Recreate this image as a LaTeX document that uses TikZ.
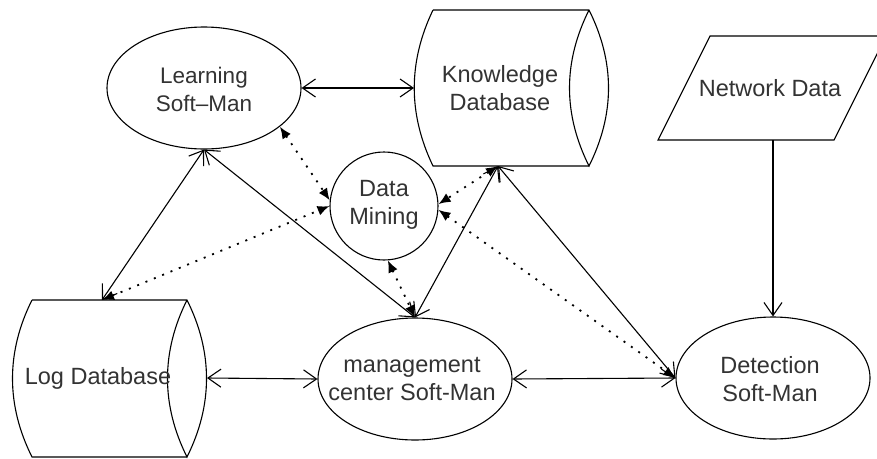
\documentclass[tikz,border=0pt]{standalone}
\usepackage{fontspec}
\setmainfont{Liberation Sans}
\usetikzlibrary{shapes.geometric,arrows.meta}
\begin{document}
\begin{tikzpicture}[x=1pt,y=-1pt,
  shapeline/.style={draw=black,line width=1.1pt},
  ell/.style={shapeline,ellipse,inner sep=0pt,minimum width=194pt,minimum height=122pt},
  lbl/.style={align=center,font=\fontsize{23.5}{28}\selectfont,text=black!80,inner sep=0pt},
  barb/.tip={Straight Barb[length=13pt,width=18pt,line width=1.1pt]},
  biarr/.style={line width=1.1pt,barb-barb},
  onearr/.style={line width=1.1pt,-barb},
  dottip/.tip={Latex[length=12pt,width=10pt]},
  dotarr/.style={line width=1.8pt,dash pattern=on 2pt off 7pt,dottip-dottip}]
\useasboundingbox (0,0) rectangle (877,458);
\fill[white] (0,0) rectangle (877,458);

% Learning Soft-Man
\node[ell] (ls) at (204,88) {};
\node[lbl,font=\fontsize{22.5}{28}\selectfont] (lst) at (204,89) {Learning\\Soft\textendash Man};

% Knowledge Database (horizontal cylinder)
\draw[shapeline] (433,10) -- (589,10)
  .. controls (615,62) and (615,114) .. (589,166)
  .. controls (563,114) and (563,62) .. (589,10);
\draw[shapeline] (589,166) -- (433,166)
  .. controls (408,114) and (408,62) .. (433,10);
\node[lbl] (kd) at (500,88) {Knowledge\\Database};
\coordinate (kd-w) at (414,88);
\coordinate (kd-s) at (498,166);

% Network Data (parallelogram)
\draw[shapeline] (710,36) -- (886,36) -- (834,140) -- (658,140) -- cycle;
\node[lbl] (nd) at (770,88) {Network Data};
\coordinate (nd-s) at (773,140);

% Data Mining
\node[shapeline,circle,inner sep=0pt,minimum size=108pt] (dm) at (384,206) {};
\node[lbl] (dmt) at (384,205) {Data\\Mining};

% Log Database (horizontal cylinder)
\draw[shapeline] (32,300) -- (187,300)
  .. controls (213,352) and (213,405) .. (187,457)
  .. controls (161,405) and (161,352) .. (187,300);
\draw[shapeline] (187,457) -- (32,457)
  .. controls (6,405) and (6,352) .. (32,300);
\node[lbl] (log) at (98,378) {Log Database};
\coordinate (log-n) at (102,300);
\coordinate (log-e) at (207,378);

% management center Soft-Man
\node[ell] (mc) at (415,379) {};
\node[lbl] (mct) at (412,379) {management\\center Soft-Man};

% Detection Soft-Man
\node[ell] (dt) at (773,378) {};
\node[lbl] (dtt) at (770,379) {Detection\\Soft-Man};

% solid connectors
\draw[biarr] (ls.east) -- (kd-w);
\draw[biarr] (ls.south) -- (log-n);
\draw[biarr] (ls.south) -- (mc.north);
\draw[biarr] (kd-s) -- (mc.north);
\draw[biarr] (kd-s) -- (dt.west);
\draw[biarr] (log-e) -- (mc.west);
\draw[biarr] (mc.east) -- (dt.west);
\draw[onearr] (nd-s) -- (dt.north);

% dotted connectors
\draw[dotarr] (ls.-27) -- (dm.174);
\draw[dotarr] (log-n) -- (dm.180);
\draw[dotarr] (kd-s) -- (dm.2);
\draw[dotarr] (dm.-4) -- (dt.west);
\draw[dotarr] (dm.-86) -- (mc.north);
\end{tikzpicture}
\end{document}
